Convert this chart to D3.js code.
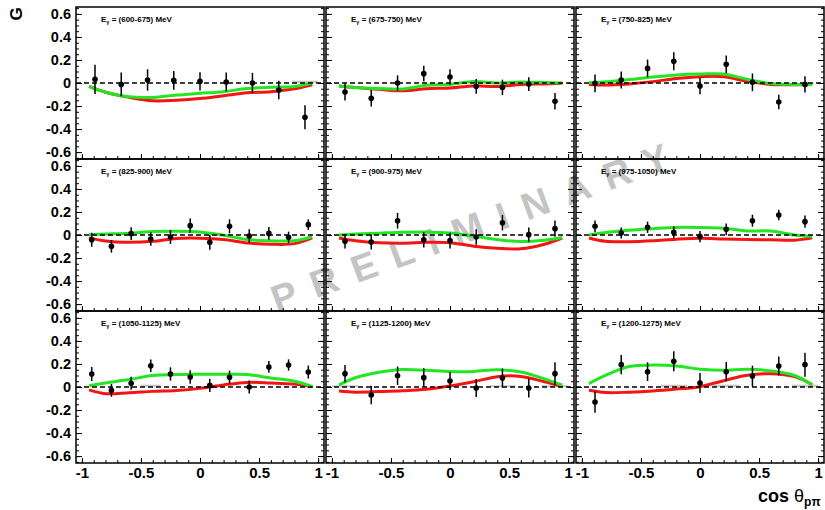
<!DOCTYPE html>
<html>
<head>
<meta charset="utf-8">
<script src="https://cdn.jsdelivr.net/npm/d3@7"></script>
<style>
  body { margin: 0; background: #fff; }
</style>
</head>
<body>
<div id="svgcontainer"></div>
<script>
var width = 825;
var height = 510;

// ---- data ----
var energyBins = ["(600-675) MeV", "(675-750) MeV", "(750-825) MeV",
                  "(825-900) MeV", "(900-975) MeV", "(975-1050) MeV",
                  "(1050-1125) MeV", "(1125-1200) MeV", "(1200-1275) MeV"];

var cos9 = [-0.889, -0.667, -0.444, -0.222, 0, 0.222, 0.444, 0.667, 0.889];
var cos12 = [-0.917, -0.75, -0.583, -0.417, -0.25, -0.083, 0.083, 0.25, 0.417, 0.583, 0.75, 0.917];
var cosModel = [-0.94, -0.8, -0.6, -0.4, -0.2, 0, 0.2, 0.4, 0.6, 0.8, 0.95];

var g600 = [0.032, -0.012, 0.026, 0.023, 0.014, 0.009, 0.0, -0.061, -0.298];
var dg600 = [0.127, 0.104, 0.093, 0.082, 0.08, 0.082, 0.088, 0.081, 0.104];
var green600 = [-0.03, -0.08, -0.12, -0.125, -0.105, -0.09, -0.075, -0.048, -0.037, -0.03, 0.0];
var red600 = [-0.03, -0.08, -0.125, -0.155, -0.15, -0.135, -0.11, -0.085, -0.075, -0.05, -0.015];
var sys600 = [0, 0, 0, 0, 0, 0, 0, 0, 0.02];

var g675 = [-0.078, -0.133, 0.0, 0.081, 0.052, -0.029, -0.038, -0.009, -0.159];
var dg675 = [0.075, 0.072, 0.067, 0.068, 0.068, 0.064, 0.067, 0.06, 0.072];
var green675 = [-0.026, -0.04, -0.048, -0.052, -0.02, -0.012, 0.012, 0.0, 0.009, 0.004, 0.0];
var red675 = [-0.026, -0.04, -0.055, -0.068, -0.05, -0.043, -0.025, -0.03, -0.014, -0.008, -0.003];
var sys675 = [0, 0, 0, 0, 0, 0, 0, 0, 0];

var g750 = [-0.003, 0.026, 0.127, 0.188, -0.026, 0.162, 0.006, -0.165, -0.012];
var dg750 = [0.077, 0.074, 0.077, 0.078, 0.072, 0.077, 0.077, 0.062, 0.07];
var green750 = [0.003, 0.01, 0.03, 0.052, 0.07, 0.078, 0.078, 0.032, -0.005, -0.012, -0.012];
var red750 = [-0.012, -0.018, -0.008, 0.012, 0.04, 0.055, 0.055, 0.014, -0.012, -0.016, -0.013];
var sys750 = [0, 0, 0, 0, 0, 0, 0, 0, 0];

var g825 = [-0.041, -0.098, 0.012, -0.035, -0.017, 0.081, -0.064, 0.075, -0.009, 0.014, -0.02, 0.09];
var dg825 = [0.061, 0.055, 0.055, 0.058, 0.061, 0.062, 0.064, 0.061, 0.058, 0.055, 0.049, 0.046];
var green825 = [0.003, 0.008, 0.015, 0.03, 0.033, 0.027, -0.002, -0.04, -0.05, -0.05, -0.015];
var red825 = [-0.025, -0.052, -0.063, -0.055, -0.03, -0.028, -0.04, -0.07, -0.08, -0.075, -0.025];
var sys825 = [0, 0, 0, 0, 0, 0, 0, 0, 0, 0, 0, 0];

var g900 = [-0.055, -0.061, 0.124, -0.041, -0.049, -0.017, 0.107, 0.003, 0.055];
var dg900 = [0.062, 0.064, 0.068, 0.068, 0.068, 0.068, 0.067, 0.062, 0.071];
var green900 = [0.0, 0.008, 0.016, 0.024, 0.026, 0.017, -0.01, -0.04, -0.057, -0.045, -0.022];
var red900 = [-0.026, -0.05, -0.068, -0.072, -0.063, -0.067, -0.097, -0.115, -0.12, -0.08, -0.026];
var sys900 = [0, 0, 0, 0, 0, 0, 0, 0, 0];

var g975 = [0.075, 0.017, 0.067, 0.023, -0.014, 0.049, 0.124, 0.174, 0.116];
var dg975 = [0.051, 0.048, 0.049, 0.051, 0.049, 0.051, 0.052, 0.046, 0.054];
var green975 = [0.0, 0.022, 0.042, 0.055, 0.066, 0.065, 0.058, 0.035, 0.034, 0.0, -0.012];
var red975 = [-0.026, -0.055, -0.058, -0.05, -0.036, -0.028, -0.035, -0.04, -0.042, -0.045, -0.025];
var sys975 = [0, 0, 0, 0, 0, 0, 0, 0, 0];

var g1050 = [0.113, -0.029, 0.032, 0.185, 0.113, 0.087, 0.014, 0.084, 0.0, 0.174, 0.191, 0.13];
var dg1050 = [0.061, 0.056, 0.056, 0.054, 0.058, 0.059, 0.058, 0.058, 0.056, 0.051, 0.049, 0.056];
var green1050 = [0.012, 0.035, 0.065, 0.1, 0.108, 0.11, 0.11, 0.108, 0.078, 0.05, 0.005];
var red1050 = [-0.025, -0.058, -0.05, -0.038, -0.03, -0.012, 0.018, 0.04, 0.035, 0.025, 0.003];
var sys1050 = [0, 0, 0, 0.02, 0, 0, 0, 0, 0, 0, 0, 0];

var g1125 = [0.116, -0.069, 0.098, 0.081, 0.052, -0.009, 0.078, -0.009, 0.116];
var dg1125 = [0.075, 0.08, 0.08, 0.081, 0.078, 0.078, 0.082, 0.082, 0.098];
var green1125 = [0.018, 0.08, 0.128, 0.152, 0.145, 0.135, 0.135, 0.15, 0.13, 0.07, 0.015];
var red1125 = [-0.035, -0.045, -0.04, -0.033, -0.02, 0.008, 0.045, 0.09, 0.092, 0.045, 0.005];
var sys1125 = [0.015, 0, 0, 0, 0, 0, 0.015, 0, 0.015];

var g1200 = [-0.13, 0.194, 0.133, 0.223, 0.035, 0.133, 0.095, 0.182, 0.194];
var dg1200 = [0.093, 0.084, 0.081, 0.087, 0.087, 0.084, 0.09, 0.082, 0.104];
var green1200 = [0.03, 0.1, 0.178, 0.19, 0.182, 0.155, 0.145, 0.155, 0.14, 0.1, 0.02];
var red1200 = [-0.028, -0.048, -0.045, -0.035, -0.018, 0.003, 0.055, 0.102, 0.115, 0.09, 0.02];
var sys1200 = [0, 0, 0, 0.02, 0, 0.02, 0, 0, 0.02];

var yMajor = [-0.6, -0.4, -0.2, 0, 0.2, 0.4, 0.6];
var xMajor = [-1, -0.5, 0, 0.5, 1];

var panels = [
   {label: energyBins[0], cos: cos9, g: g600, dg: dg600, green: green600, red: red600, sys: sys600},
   {label: energyBins[1], cos: cos9, g: g675, dg: dg675, green: green675, red: red675, sys: sys675},
   {label: energyBins[2], cos: cos9, g: g750, dg: dg750, green: green750, red: red750, sys: sys750},
   {label: energyBins[3], cos: cos12, g: g825, dg: dg825, green: green825, red: red825, sys: sys825},
   {label: energyBins[4], cos: cos9, g: g900, dg: dg900, green: green900, red: red900, sys: sys900},
   {label: energyBins[5], cos: cos9, g: g975, dg: dg975, green: green975, red: red975, sys: sys975},
   {label: energyBins[6], cos: cos12, g: g1050, dg: dg1050, green: green1050, red: red1050, sys: sys1050},
   {label: energyBins[7], cos: cos9, g: g1125, dg: dg1125, green: green1125, red: red1125, sys: sys1125},
   {label: energyBins[8], cos: cos9, g: g1200, dg: dg1200, green: green1200, red: red1200, sys: sys1200}
];

// ---- layout ----
var colX = [76, 326, 576];
var rowY = [7, 159, 311];
var panelW = 248;
var panelH = 152;
var font = "'Liberation Sans', Arial, Helvetica, sans-serif";

var svg = d3.select("#svgcontainer")
   .append("svg")
   .attr("width", width)
   .attr("height", height);

// watermark goes first, under everything
svg.append("text")
   .attr("transform", "translate(470,228) rotate(-20.2)")
   .attr("text-anchor", "middle")
   .attr("dominant-baseline", "central")
   .attr("font-family", font)
   .attr("font-weight", "bold")
   .attr("font-size", 38)
   .attr("fill", "#c4c4c4")
   .attr("textLength", 421)
   .attr("lengthAdjust", "spacing")
   .text("PRELIMINARY");

panels.forEach(function(p, i) {
   var col = i % 3;
   var row = Math.floor(i / 3);
   var x0 = colX[col];
   var y0 = rowY[row];

   var x = d3.scaleLinear().domain([-1.05, 1.05]).range([x0, x0 + panelW]);
   var y = d3.scaleLinear().domain([-0.66, 0.66]).range([y0 + panelH, y0]);

   var panel = svg.append("g").attr("class", "panel");

   // systematic band (grey boxes from zero)
   var half = (p.cos[1] - p.cos[0]) / 2;
   panel.selectAll("rect.sys")
      .data(p.sys.map(function(s, k) { return {c: p.cos[k], s: s}; }).filter(function(d) { return d.s > 0; }))
      .enter()
      .append("rect")
      .attr("class", "sys")
      .attr("x", function(d) { return x(d.c - half); })
      .attr("width", function(d) { return x(d.c + half) - x(d.c - half); })
      .attr("y", function(d) { return y(d.s); })
      .attr("height", function(d) { return y(0) - y(d.s); })
      .attr("fill", "#c8c8c8");

   // model curves
   var line = d3.line()
      .x(function(d, k) { return x(cosModel[k]); })
      .y(function(d) { return y(d); })
      .curve(d3.curveCatmullRom);

   panel.append("path")
      .attr("d", line(p.red))
      .attr("fill", "none")
      .attr("stroke", "#f41414")
      .attr("stroke-width", 3);

   panel.append("path")
      .attr("d", line(p.green))
      .attr("fill", "none")
      .attr("stroke", "#22e622")
      .attr("stroke-width", 3);

   // zero line
   panel.append("line")
      .attr("x1", x0)
      .attr("x2", x0 + panelW)
      .attr("y1", y(0))
      .attr("y2", y(0))
      .attr("stroke", "black")
      .attr("stroke-width", 1.5)
      .attr("stroke-dasharray", "5,3");

   // data points with error bars
   var pts = p.g.map(function(v, k) { return {c: p.cos[k], v: v, e: p.dg[k]}; });

   panel.selectAll("line.err")
      .data(pts)
      .enter()
      .append("line")
      .attr("class", "err")
      .attr("x1", function(d) { return x(d.c); })
      .attr("x2", function(d) { return x(d.c); })
      .attr("y1", function(d) { return y(d.v - d.e); })
      .attr("y2", function(d) { return y(d.v + d.e); })
      .attr("stroke", "black")
      .attr("stroke-width", 1.5);

   panel.selectAll("circle.pt")
      .data(pts)
      .enter()
      .append("circle")
      .attr("class", "pt")
      .attr("cx", function(d) { return x(d.c); })
      .attr("cy", function(d) { return y(d.v); })
      .attr("r", 2.8)
      .attr("fill", "black");

   // ticks, inward, left + right + bottom
   var yMinor = d3.range(-0.65, 0.66, 0.05);
   var xMinor = d3.range(-1, 1.01, 0.1);

   function tidy(sel) {
      sel.select(".domain").remove();
      sel.selectAll("line").attr("stroke", "black").attr("stroke-width", 1);
   }

   panel.append("g").attr("transform", "translate(" + x0 + ",0)")
      .call(d3.axisRight(y).tickValues(yMinor).tickSize(3).tickFormat("")).call(tidy);
   panel.append("g").attr("transform", "translate(" + x0 + ",0)")
      .call(d3.axisRight(y).tickValues(yMajor).tickSize(6).tickFormat("")).call(tidy);
   panel.append("g").attr("transform", "translate(" + (x0 + panelW) + ",0)")
      .call(d3.axisLeft(y).tickValues(yMinor).tickSize(3).tickFormat("")).call(tidy);
   panel.append("g").attr("transform", "translate(" + (x0 + panelW) + ",0)")
      .call(d3.axisLeft(y).tickValues(yMajor).tickSize(6).tickFormat("")).call(tidy);
   panel.append("g").attr("transform", "translate(0," + (y0 + panelH) + ")")
      .call(d3.axisTop(x).tickValues(xMinor).tickSize(3).tickFormat("")).call(tidy);
   panel.append("g").attr("transform", "translate(0," + (y0 + panelH) + ")")
      .call(d3.axisTop(x).tickValues(xMajor).tickSize(5).tickFormat("")).call(tidy);

   // frame
   panel.append("rect")
      .attr("x", x0)
      .attr("y", y0)
      .attr("width", panelW)
      .attr("height", panelH)
      .attr("fill", "none")
      .attr("stroke", "black")
      .attr("stroke-width", 1.5);

   // energy label
   var lab = panel.append("text")
      .attr("x", x0 + 25)
      .attr("y", y0 + 14.5)
      .attr("font-family", font)
      .attr("font-weight", "bold")
      .attr("font-size", 8)
      .attr("fill", "black");
   lab.append("tspan").text("E");
   lab.append("tspan").attr("font-size", 5.5).attr("dy", 2).text("\u03b3");
   lab.append("tspan").attr("dy", -2).text(" = " + p.label);

   // tick labels
   if (col == 0) {
      var ya = panel.append("g").attr("transform", "translate(" + x0 + ",0)")
         .call(d3.axisLeft(y).tickValues(yMajor).tickSize(0).tickPadding(5)
            .tickFormat(function(d) { return String(d); }));
      ya.select(".domain").remove();
      ya.attr("font-family", font).attr("font-size", 14.5).attr("font-weight", "bold");
   }
   if (row == 2) {
      var xa = panel.append("g").attr("transform", "translate(0," + (y0 + panelH) + ")")
         .call(d3.axisBottom(x).tickValues(xMajor).tickSize(0).tickPadding(4)
            .tickFormat(function(d) { return String(d); }));
      xa.select(".domain").remove();
      xa.attr("font-family", font).attr("font-size", 15).attr("font-weight", "bold");
   }
});

// axis titles
svg.append("text")
   .attr("transform", "translate(22,14) rotate(-90)")
   .attr("text-anchor", "middle")
   .attr("font-family", font)
   .attr("font-weight", "bold")
   .attr("font-size", 17)
   .text("G");

var xt = svg.append("text")
   .attr("x", 758)
   .attr("y", 502)
   .attr("font-family", font)
   .attr("font-weight", "bold")
   .attr("font-size", 18);
xt.append("tspan").text("cos ");
xt.append("tspan").attr("font-weight", "normal").text("\u03b8");
xt.append("tspan").attr("font-size", 12).attr("dy", 4).text("p\u03c0");
</script>
</body>
</html>
